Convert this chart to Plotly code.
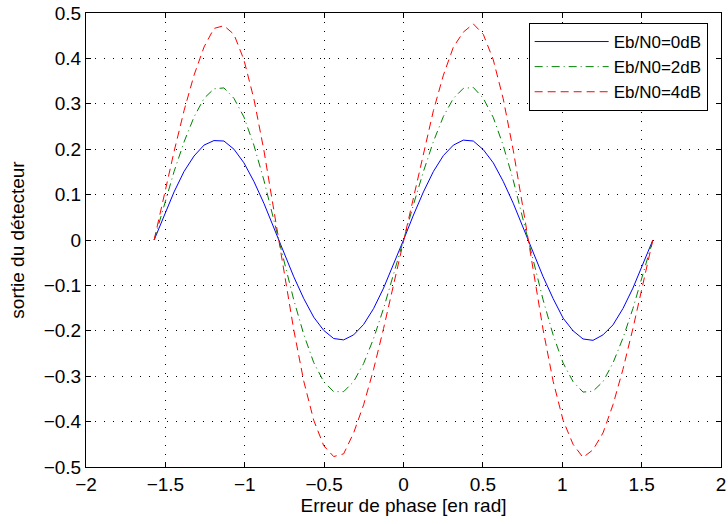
import plotly.graph_objects as go

# phase error samples (rad)
phase_err = [-1.5708, -1.5080, -1.4451, -1.3823, -1.3195, -1.2566, -1.1938, -1.1310, -1.0681, -1.0053,
             -0.9425, -0.8796, -0.8168, -0.7540, -0.6912, -0.6283, -0.5655, -0.5027, -0.4398, -0.3770,
             -0.3142, -0.2513, -0.1885, -0.1257, -0.0628, 0.0000, 0.0628, 0.1257, 0.1885, 0.2513,
             0.3142, 0.3770, 0.4398, 0.5027, 0.5655, 0.6283, 0.6912, 0.7540, 0.8168, 0.8796,
             0.9425, 1.0053, 1.0681, 1.1310, 1.1938, 1.2566, 1.3195, 1.3823, 1.4451, 1.5080, 1.5708]

out_0dB = [0.000, 0.055, 0.106, 0.151, 0.185, 0.209, 0.219, 0.218, 0.200, 0.170,
           0.129, 0.081, 0.028, -0.028, -0.081, -0.129, -0.170, -0.199, -0.217, -0.220,
           -0.209, -0.186, -0.151, -0.106, -0.055, 0.000, 0.055, 0.106, 0.151, 0.186,
           0.209, 0.220, 0.218, 0.199, 0.170, 0.129, 0.081, 0.028, -0.028, -0.081,
           -0.129, -0.172, -0.200, -0.218, -0.221, -0.209, -0.187, -0.151, -0.106, -0.055, 0.000]

out_2dB = [0.000, 0.078, 0.151, 0.216, 0.271, 0.312, 0.333, 0.335, 0.312, 0.271,
           0.209, 0.132, 0.045, -0.045, -0.132, -0.208, -0.270, -0.312, -0.334, -0.334,
           -0.312, -0.272, -0.217, -0.151, -0.078, 0.000, 0.078, 0.151, 0.217, 0.272,
           0.312, 0.334, 0.336, 0.312, 0.270, 0.208, 0.132, 0.045, -0.045, -0.132,
           -0.209, -0.271, -0.312, -0.335, -0.333, -0.312, -0.271, -0.216, -0.151, -0.078, 0.000]

out_4dB = [0.000, 0.099, 0.195, 0.285, 0.363, 0.425, 0.466, 0.472, 0.453, 0.397,
           0.311, 0.198, 0.068, -0.068, -0.198, -0.311, -0.397, -0.453, -0.477, -0.471,
           -0.425, -0.363, -0.285, -0.195, -0.099, 0.000, 0.099, 0.195, 0.285, 0.363,
           0.425, 0.458, 0.476, 0.453, 0.397, 0.311, 0.198, 0.068, -0.068, -0.198,
           -0.311, -0.397, -0.450, -0.479, -0.462, -0.425, -0.363, -0.285, -0.195, -0.099, 0.000]

series_names = ["Eb/N0=0dB", "Eb/N0=2dB", "Eb/N0=4dB"]

FONT = "Liberation Sans, Arial, Helvetica, sans-serif"
FS = 19

fig = go.Figure()
fig.add_trace(go.Scatter(x=phase_err, y=out_0dB, mode="lines", name=series_names[0],
                         line=dict(color="#0000ff", width=1)))
fig.add_trace(go.Scatter(x=phase_err, y=out_2dB, mode="lines", name=series_names[1],
                         line=dict(color="#008000", width=1, dash="8px,4px,1px,4px")))
fig.add_trace(go.Scatter(x=phase_err, y=out_4dB, mode="lines", name=series_names[2],
                         line=dict(color="#ff0000", width=1, dash="8px,5px")))

axis_common = dict(
    showline=True, linecolor="black", linewidth=1, mirror="allticks",
    ticks="inside", ticklen=5, tickcolor="black", tickwidth=1,
    showgrid=True, gridcolor="black", gridwidth=1, griddash="1px,8px",
    zeroline=False, automargin=False,
    tickfont=dict(family=FONT, size=FS, color="black"),
)

fig.update_xaxes(range=[-2, 2], dtick=0.5, tick0=-2,
                 title=dict(text="Erreur de phase [en rad]", font=dict(family=FONT, size=FS, color="black"), standoff=4),
                 **axis_common)
fig.update_yaxes(range=[-0.5, 0.5], dtick=0.1, tick0=-0.5,
                 title=dict(text="sortie du détecteur", font=dict(family=FONT, size=FS, color="black"), standoff=14),
                 **axis_common)

fig.update_layout(
    width=728, height=524,
    margin=dict(l=86, r=7, t=13, b=57, autoexpand=False),
    paper_bgcolor="white", plot_bgcolor="white",
    font=dict(family=FONT, size=FS, color="black"),
    showlegend=True,
    legend=dict(x=0.979, y=0.978, xanchor="right", yanchor="top",
                bgcolor="white", bordercolor="black", borderwidth=1,
                font=dict(family=FONT, size=17, color="black"),
                itemwidth=74, tracegroupgap=0),
)

fig.write_html("out.html", config={"displayModeBar": False},
               post_script="document.body.style.margin='0';document.body.style.overflow='hidden';")
